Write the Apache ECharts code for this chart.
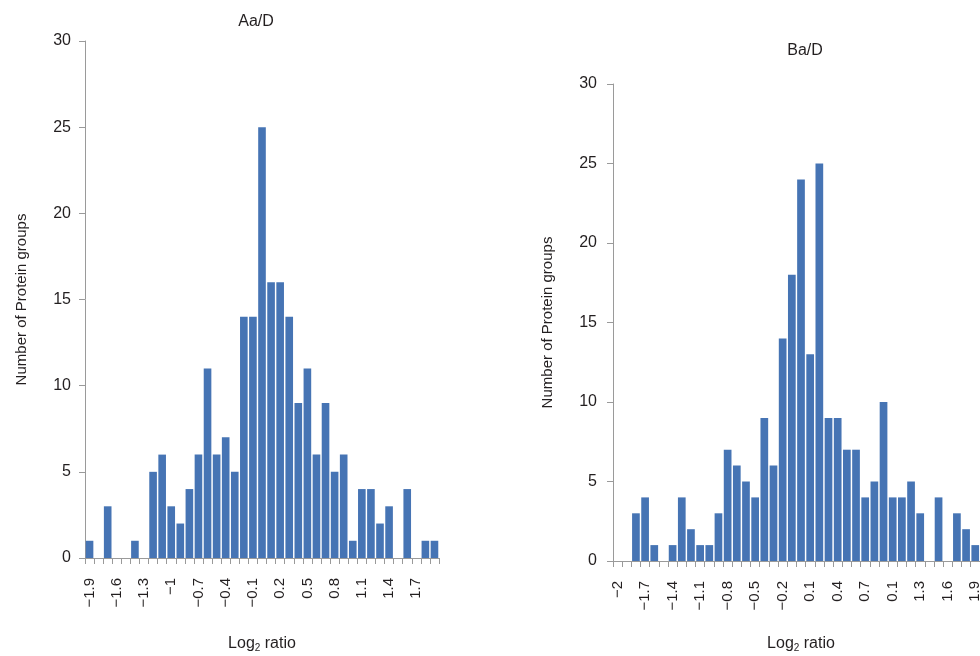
<!DOCTYPE html>
<html lang="en">

<head>
  <meta charset="UTF-8">
  <title>Log2 ratio histograms</title>
  <script src="https://cdn.jsdelivr.net/npm/echarts@6/dist/echarts.min.js"></script>
  <style>
    * {
      margin: 0;
      padding: 0;
      box-sizing: border-box;
    }

    #chart {
      width: 980px;
      height: 656px;
      background: #fff;
    }
  </style>
</head>

<body>
  <div id="chart"></div>

  <script>
    // Aa/D : bins -1.9 .. 1.9
    const leftCats = ['−1.9', '−1.8', '−1.7', '−1.6', '−1.5', '−1.4', '−1.3', '−1.2', '−1.1', '−1',
      '−0.9', '−0.8', '−0.7', '−0.6', '−0.5', '−0.4', '−0.3', '−0.2', '−0.1', '0',
      '0.1', '0.2', '0.3', '0.4', '0.5', '0.6', '0.7', '0.8', '0.9', '1',
      '1.1', '1.2', '1.3', '1.4', '1.5', '1.6', '1.7', '1.8', '1.9'];
    const leftCounts = [1, 0, 3, 0, 0, 1, 0, 5, 6, 3,
      2, 4, 6, 11, 6, 7, 5, 14, 14, 25,
      16, 16, 14, 9, 11, 6, 9, 5, 6, 1,
      4, 4, 2, 3, 0, 4, 0, 1, 1];

    // Ba/D : bins -2 .. 2 (the picture labels the 1.0 bin "0.1")
    const rightCats = ['−2', '−1.9', '−1.8', '−1.7', '−1.6', '−1.5', '−1.4', '−1.3', '−1.2', '−1.1',
      '−1', '−0.9', '−0.8', '−0.7', '−0.6', '−0.5', '−0.4', '−0.3', '−0.2', '−0.1',
      '0', '0.1', '0.2', '0.3', '0.4', '0.5', '0.6', '0.7', '0.8', '0.9',
      '0.1', '1.1', '1.2', '1.3', '1.4', '1.5', '1.6', '1.7', '1.8', '1.9', '2'];
    const rightCounts = [0, 0, 3, 4, 1, 0, 1, 4, 2, 1,
      1, 3, 7, 6, 5, 4, 9, 6, 14, 18,
      24, 13, 25, 9, 9, 7, 7, 4, 5, 10,
      4, 4, 5, 3, 0, 4, 0, 3, 2, 1, 1];

    const font = 'Liberation Sans, Arial, sans-serif';
    const ink = '#231f20';
    const axisGrey = '#9a9a9a';
    const barBlue = '#4674b4';

    function xAxisFor(gridIndex, cats, gap) {
      return {
        type: 'category',
        gridIndex: gridIndex,
        data: cats,
        name: 'Log{sub|2} ratio',
        nameLocation: 'middle',
        nameGap: gap,
        nameTextStyle: {
          color: ink, fontSize: 16, fontFamily: font,
          rich: { sub: { fontSize: 10, verticalAlign: 'bottom', padding: [8, 0, 0, 0], color: ink, fontFamily: font } }
        },
        axisLine: { lineStyle: { color: axisGrey, width: 1 } },
        axisTick: { show: true, interval: 0, length: 6, lineStyle: { color: axisGrey } },
        axisLabel: { interval: 2, rotate: 90, margin: 20, fontSize: 15, color: ink, fontFamily: font },
        splitLine: { show: false }
      };
    }

    function yAxisFor(gridIndex, gap, margin) {
      return {
        type: 'value',
        gridIndex: gridIndex,
        min: 0,
        max: 30,
        interval: 5,
        name: 'Number of Protein groups',
        nameLocation: 'middle',
        nameGap: gap,
        nameRotate: 90,
        nameTextStyle: { color: ink, fontSize: 15, fontFamily: font },
        axisLine: { show: true, lineStyle: { color: axisGrey, width: 1 } },
        axisTick: { show: true, length: 6, lineStyle: { color: axisGrey } },
        axisLabel: { margin: margin, fontSize: 16, color: ink, fontFamily: font },
        splitLine: { show: false }
      };
    }

    const myChart = echarts.init(document.getElementById('chart'));

    const option = {
      animation: false,
      title: [
        { text: 'Aa/D', left: 251, top: 9, textAlign: 'center', textStyle: { fontSize: 16, fontWeight: 'normal', color: ink, fontFamily: font } },
        { text: 'Ba/D', left: 800, top: 38, textAlign: 'center', textStyle: { fontSize: 16, fontWeight: 'normal', color: ink, fontFamily: font } }
      ],
      grid: [
        { left: 85, top: 41, width: 354, height: 517, outerBoundsMode: 'none' },
        { left: 613, top: 84, width: 376, height: 477, outerBoundsMode: 'none' }
      ],
      xAxis: [xAxisFor(0, leftCats, 77), xAxisFor(1, rightCats, 74)],
      yAxis: [yAxisFor(0, 56, 14), yAxisFor(1, 58, 16)],
      series: [
        {
          type: 'bar', xAxisIndex: 0, yAxisIndex: 0, data: leftCounts,
          barCategoryGap: '16%', itemStyle: { color: barBlue }
        },
        {
          type: 'bar', xAxisIndex: 1, yAxisIndex: 1, data: rightCounts,
          barCategoryGap: '16%', itemStyle: { color: barBlue }
        }
      ]
    };

    myChart.setOption(option);
  </script>
</body>

</html>
